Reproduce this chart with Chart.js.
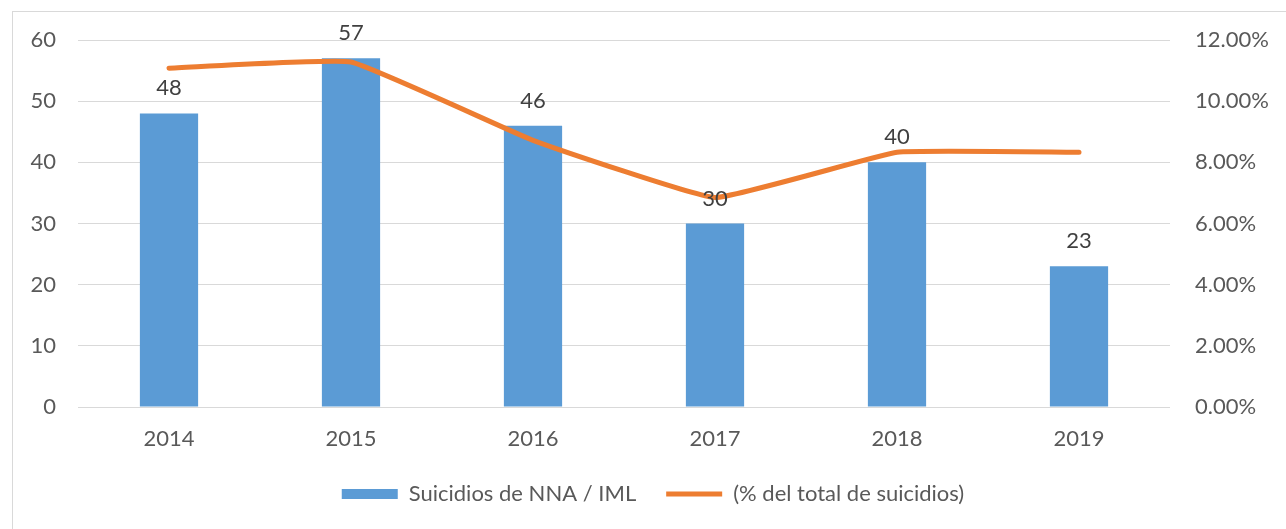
<!DOCTYPE html>
<html>
<head>
<meta charset="utf-8">
<title>Suicidios de NNA</title>
<script src="https://cdn.jsdelivr.net/npm/chart.js@4"></script>
<style>
  html, body { margin: 0; padding: 0; background: #fff; overflow: hidden; }
  #frame {
    position: absolute; left: 12px; top: 11px;
    width: 1290px; height: 540px;
    border: 1px solid #d9d9d9;
  }
  #chart { position: absolute; left: 0; top: 0; }
</style>
</head>
<body>
<div id="frame"></div>
<canvas id="chart" width="1286" height="529"></canvas>
<script>
// Chart data
const years = ['2014', '2015', '2016', '2017', '2018', '2019'];
const suicidesNNA = [48, 57, 46, 30, 40, 23];
// share of all suicides, in percent
const shareOfTotal = [11.08, 11.28, 8.72, 6.85, 8.33, 8.33];

const leftTicks = [0, 10, 20, 30, 40, 50, 60];
const rightTicks = [0, 2, 4, 6, 8, 10, 12];

const FONT = 'Lato';
const TEXT_GRAY = '#595959';

// Write the bar values above each bar
const barValueLabels = {
    id: 'barValueLabels',
    afterDatasetsDraw(chart) {
        const ctx = chart.ctx;
        const meta = chart.getDatasetMeta(0);
        ctx.save();
        ctx.font = '22px ' + FONT;
        ctx.fillStyle = '#404040';
        ctx.textAlign = 'center';
        ctx.textBaseline = 'middle';
        meta.data.forEach((bar, i) => {
            ctx.fillText(String(suicidesNNA[i]), bar.x, bar.y - 25);
        });
        ctx.restore();
    }
};

const ctx = document.getElementById('chart').getContext('2d');

new Chart(ctx, {
    data: {
        labels: years,
        datasets: [
            {
                type: 'bar',
                label: 'Suicidios de NNA / IML',
                data: suicidesNNA,
                backgroundColor: '#5B9BD5',
                borderWidth: 0,
                categoryPercentage: 1,
                barPercentage: 0.32,
                yAxisID: 'y',
                order: 1
            },
            {
                type: 'line',
                label: '(% del total de suicidios)',
                data: shareOfTotal,
                borderColor: '#ED7D31',
                backgroundColor: '#ED7D31',
                borderWidth: 5,
                pointRadius: 0,
                tension: 0.1,
                borderCapStyle: 'round',
                yAxisID: 'y1',
                order: 0
            }
        ]
    },
    options: {
        responsive: false,
        animation: false,
        layout: {
            padding: { top: 40, left: 20, right: 0, bottom: 14 }
        },
        scales: {
            x: {
                grid: { display: false, drawTicks: false },
                border: { display: false },
                ticks: {
                    color: TEXT_GRAY,
                    font: { family: FONT, size: 22 },
                    padding: 19
                },
                afterFit(scale) { scale.height = 46; }
            },
            y: {
                position: 'left',
                min: 0,
                max: 60,
                afterBuildTicks(scale) {
                    scale.ticks = leftTicks.map(v => ({ value: v }));
                },
                grid: { color: '#d9d9d9', lineWidth: 1, drawTicks: false },
                border: { display: false },
                ticks: {
                    color: TEXT_GRAY,
                    font: { family: FONT, size: 22 },
                    padding: 22
                },
                afterFit(scale) { scale.width = 58; }
            },
            y1: {
                position: 'right',
                min: 0,
                max: 12,
                afterBuildTicks(scale) {
                    scale.ticks = rightTicks.map(v => ({ value: v }));
                },
                grid: { display: false, drawTicks: false },
                border: { display: false },
                ticks: {
                    color: TEXT_GRAY,
                    font: { family: FONT, size: 22 },
                    padding: 25,
                    callback: v => Number(v).toFixed(2) + '%'
                },
                afterFit(scale) { scale.width = 116; }
            }
        },
        plugins: {
            legend: {
                position: 'bottom',
                labels: {
                    color: TEXT_GRAY,
                    font: { family: FONT, size: 22 },
                    padding: 30,
                    usePointStyle: true,
                    pointStyleWidth: 56,
                    boxHeight: 10,
                    sort: (a, b) => a.datasetIndex - b.datasetIndex,
                    generateLabels(chart) {
                        const items = Chart.defaults.plugins.legend.labels.generateLabels(chart);
                        items.forEach(item => {
                            if (item.datasetIndex === 0) {
                                item.pointStyle = 'rect';
                                item.lineWidth = 0;
                            } else {
                                item.pointStyle = 'line';
                                item.lineWidth = 5;
                                item.strokeStyle = '#ED7D31';
                            }
                        });
                        return items;
                    }
                }
            },
            tooltip: { enabled: false }
        }
    },
    plugins: [barValueLabels]
});
</script>
</body>
</html>
